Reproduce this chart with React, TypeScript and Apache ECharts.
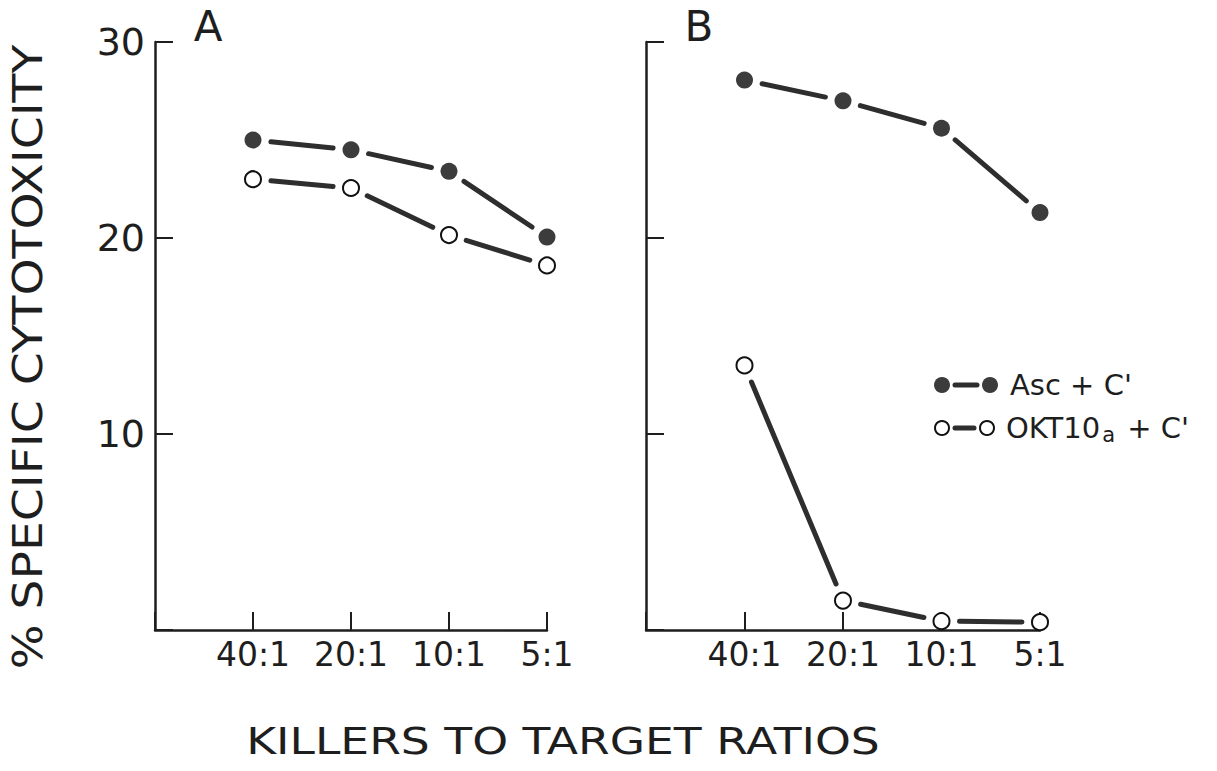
import React, { useEffect, useRef } from "react";
import * as echarts from "echarts";

const ratios = ["40:1", "20:1", "10:1", "5:1"];
const yTicks = [0, 10, 20, 30];
const panelAAsc = [25.0, 24.5, 23.4, 20.05];
const panelAOkt = [23.0, 22.55, 20.15, 18.6];
const panelBAsc = [28.06, 27.0, 25.6, 21.3];
const panelBOkt = [13.5, 1.5, 0.45, 0.4];

const INK = "#1e1e1e";
const LINE = "#2e2e2e";
const DOT = "#3c3c3c";
const FONT = "'DejaVu Sans', 'Liberation Sans', sans-serif";
const GAP = 18;

const toPts = (vals: number[]) => vals.map((v, i) => [i + 1, v]);
const toSegs = (vals: number[]) =>
  vals.slice(0, -1).map((v, i) => [i + 1, v, i + 2, vals[i + 1]]);

function makeSeries(vals: number[], filled: boolean, idx: number) {
  return [
    {
      type: "custom",
      xAxisIndex: idx,
      yAxisIndex: idx,
      data: toSegs(vals),
      encode: { x: [0, 2], y: [1, 3] },
      silent: true,
      z: 2,
      renderItem: (_params: any, api: any) => {
        const p0 = api.coord([api.value(0), api.value(1)]);
        const p1 = api.coord([api.value(2), api.value(3)]);
        const dx = p1[0] - p0[0];
        const dy = p1[1] - p0[1];
        const len = Math.sqrt(dx * dx + dy * dy) || 1;
        const ux = dx / len;
        const uy = dy / len;
        return {
          type: "line",
          shape: {
            x1: p0[0] + ux * GAP,
            y1: p0[1] + uy * GAP,
            x2: p1[0] - ux * GAP,
            y2: p1[1] - uy * GAP,
          },
          style: { stroke: LINE, lineWidth: 5, lineCap: "round" },
        };
      },
    },
    {
      type: "scatter",
      xAxisIndex: idx,
      yAxisIndex: idx,
      data: toPts(vals),
      symbol: "circle",
      symbolSize: filled ? 17 : 16,
      itemStyle: filled
        ? { color: DOT, opacity: 1, borderWidth: 0 }
        : { color: "#fff", opacity: 1, borderColor: "#111", borderWidth: 2 },
      z: 4,
      silent: true,
    },
  ];
}

function xAxis(idx: number) {
  return {
    type: "value",
    gridIndex: idx,
    min: 0,
    max: 4,
    interval: 1,
    axisLine: { show: true, onZero: false, lineStyle: { color: INK, width: 2.5 } },
    axisTick: { show: true, inside: true, length: 18, lineStyle: { color: INK, width: 2 } },
    splitLine: { show: false },
    axisLabel: {
      show: true,
      margin: 8,
      color: INK,
      fontSize: 33,
      fontFamily: FONT,
      formatter: (v: number) => (v >= 1 && v <= ratios.length ? ratios[v - 1] : ""),
    },
  };
}

function yAxis(idx: number, showLabels: boolean) {
  return {
    type: "value",
    gridIndex: idx,
    min: yTicks[0],
    max: yTicks[yTicks.length - 1],
    interval: 10,
    axisLine: { show: true, onZero: false, lineStyle: { color: INK, width: 2.5 } },
    axisTick: { show: true, inside: true, length: 18, lineStyle: { color: INK, width: 2 } },
    splitLine: { show: false },
    axisLabel: {
      show: showLabels,
      margin: 10,
      color: INK,
      fontSize: 38,
      fontFamily: FONT,
      formatter: (v: number) => (v === 0 ? "" : String(v)),
    },
  };
}

const centered = { align: "center", verticalAlign: "middle", textAlign: "center", textVerticalAlign: "middle" };
const leftMid = { align: "left", verticalAlign: "middle", textAlign: "left", textVerticalAlign: "middle" };

export default function App() {
  const ref = useRef<HTMLDivElement>(null);
  useEffect(() => {
    if (!ref.current) return;
    const chart = echarts.init(ref.current, null, { renderer: "svg" });
    const legendRow = (y: number, filled: boolean, x1: number, x2: number) => {
      const circ = (cx: number) => ({
        type: "circle",
        shape: { cx, cy: y, r: filled ? 8 : 7 },
        style: filled
          ? { fill: DOT, stroke: null }
          : { fill: "#fff", stroke: "#111", lineWidth: 2 },
        z: 10,
      });
      return [
        circ(x1),
        {
          type: "line",
          shape: { x1: x1 + 13, y1: y, x2: x2 - 13, y2: y },
          style: { stroke: LINE, lineWidth: 5, lineCap: "round" },
          z: 10,
        },
        circ(x2),
      ];
    };
    chart.setOption({
      animation: false,
      backgroundColor: "#fff",
      grid: [
        { left: 155, top: 42, width: 392, height: 588 },
        { left: 646, top: 42, width: 394, height: 588 },
      ],
      xAxis: [xAxis(0), xAxis(1)],
      yAxis: [yAxis(0, true), yAxis(1, false)],
      series: [
        ...makeSeries(panelAAsc, true, 0),
        ...makeSeries(panelAOkt, false, 0),
        ...makeSeries(panelBAsc, true, 1),
        ...makeSeries(panelBOkt, false, 1),
      ],
      graphic: [
        {
          type: "text",
          x: 28,
          y: 357,
          rotation: Math.PI / 2,
          scaleX: 1.18,
          style: { text: "% SPECIFIC CYTOTOXICITY", font: `40px ${FONT}`, fill: INK, ...centered },
        },
        {
          type: "text",
          x: 563,
          y: 741,
          scaleX: 1.2,
          style: { text: "KILLERS TO TARGET RATIOS", font: `38px ${FONT}`, fill: INK, ...centered },
        },
        {
          type: "text",
          x: 208,
          y: 26,
          style: { text: "A", font: `42px ${FONT}`, fill: INK, ...centered },
        },
        {
          type: "text",
          x: 699,
          y: 26,
          style: { text: "B", font: `42px ${FONT}`, fill: INK, ...centered },
        },
        ...legendRow(385, true, 942, 990),
        ...legendRow(428, false, 942, 987),
        {
          type: "text",
          x: 1010,
          y: 385,
          style: { text: "Asc + C'", font: `29px ${FONT}`, fill: INK, ...leftMid },
        },
        {
          type: "text",
          x: 1006,
          y: 428,
          style: {
            text: "{n|OKT10}{s|a}{n| + C'}",
            font: `29px ${FONT}`,
            fill: INK,
            ...leftMid,
            rich: {
              n: { fontSize: 29, fontFamily: FONT, fill: INK, color: INK },
              s: { fontSize: 21, fontFamily: FONT, fill: INK, color: INK, padding: [14, 3, 0, 2] },
            },
          },
        },
      ],
    });
    return () => chart.dispose();
  }, []);
  return (
    <div
      ref={ref}
      style={{ position: "fixed", left: 0, top: 0, width: 1217, height: 771, background: "#fff" }}
    />
  );
}
